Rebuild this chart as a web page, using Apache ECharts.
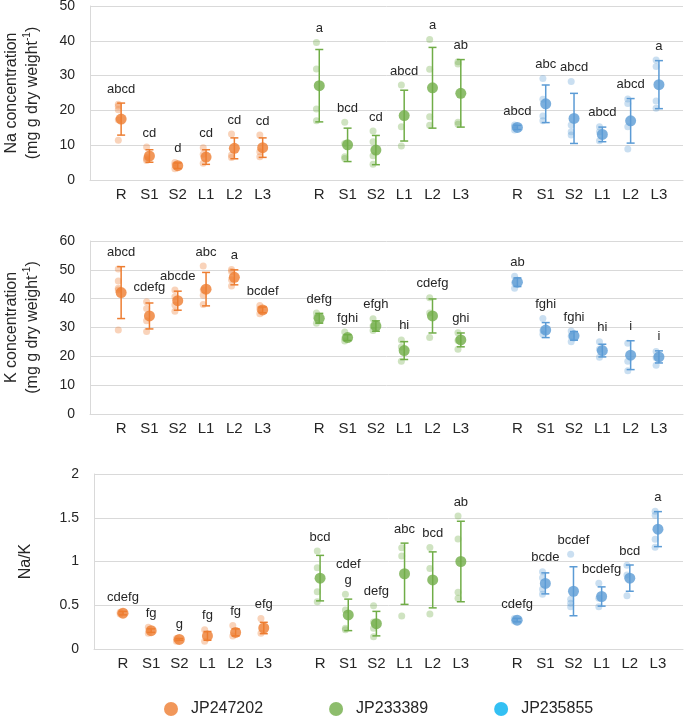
<!DOCTYPE html>
<html>
<head>
<meta charset="utf-8">
<script src="https://cdn.jsdelivr.net/npm/echarts@6/dist/echarts.min.js"></script>
<style>html,body{margin:0;padding:0;background:#fff}#c{width:685px;height:716px}</style>
</head>
<body>
<div id="c"></div>
<script>
// ---------- DATA ----------
const treatments = ['R', 'S1', 'S2', 'L1', 'L2', 'L3'];
const genotypes = ['JP247202', 'JP233389', 'JP235855'];

// Na concentration (mg g dry weight^-1)
const naMeanOr = [17.5, 6.9, 4.1, 6.6, 9.1, 9.3];
const naErrOr  = [4.6, 1.8, 0.8, 2.1, 3.0, 2.8];
const naRepOr  = [[21.8, 21.2, 20.2, 17.3, 11.4], [9.5, 6.5, 6.0, 5.6], [5.0, 4.3, 3.2], [9.3, 7.4, 4.8], [13.2, 7.2, 6.5], [12.9, 8.1, 6.7]];
const naLblOr  = ['abcd', 'cd', 'd', 'cd', 'cd', 'cd'];

const naMeanGr = [27.1, 10.1, 8.6, 18.5, 26.5, 24.9];
const naErrGr  = [10.4, 4.8, 4.2, 7.3, 11.6, 9.7];
const naRepGr  = [[39.5, 31.9, 20.4, 17.0], [16.6, 10.5, 6.7, 6.2], [14.1, 11.0, 7.0, 4.5], [27.3, 15.3, 9.8], [40.4, 31.8, 18.2, 15.7], [34.0, 33.3, 16.6, 16.0]];
const naLblGr  = ['a', 'bcd', 'cd', 'abcd', 'a', 'ab'];

const naMeanBl = [15.1, 21.9, 17.7, 13.1, 17.0, 27.4];
const naErrBl  = [0.6, 5.4, 7.2, 2.1, 6.4, 6.9];
const naRepBl  = [[15.8, 15.3, 14.4], [29.2, 23.2, 18.4, 17.0], [28.3, 15.8, 13.9, 12.9], [15.3, 13.9, 11.3], [23.3, 22.0, 15.3, 8.9], [34.5, 32.6, 22.7, 20.6]];
const naLblBl  = ['abcd', 'abc', 'abcd', 'abcd', 'abcd', 'a'];

// K concentration
const kMeanOr = [42.1, 34.0, 39.3, 43.3, 47.4, 36.1];
const kErrOr  = [9.0, 4.5, 3.3, 5.8, 2.6, 1.0];
const kRepOr  = [[50.3, 46.1, 43.6, 43.0, 29.1], [38.9, 36.6, 32.3, 28.6], [43.0, 40.7, 37.8, 35.6], [51.3, 43.0, 41.2, 38.0], [50.1, 49.4, 46.6, 44.4], [37.6, 36.4, 34.8]];
const kLblOr  = ['abcd', 'cdefg', 'abcde', 'abc', 'a', 'bcdef'];

const kMeanGr = [33.2, 26.5, 30.5, 22.0, 34.0, 25.7];
const kErrGr  = [1.7, 1.0, 1.8, 3.1, 5.9, 2.4];
const kRepGr  = [[35.0, 33.5, 31.5], [28.4, 26.3, 25.3], [33.0, 30.5, 29.0], [25.7, 23.2, 18.3], [40.3, 35.0, 26.5], [28.2, 25.5, 22.5]];
const kLblGr  = ['defg', 'fghi', 'efgh', 'hi', 'cdefg', 'ghi'];

const kMeanBl = [45.7, 29.1, 27.1, 22.0, 20.4, 19.8];
const kErrBl  = [1.5, 2.6, 1.5, 2.2, 5.0, 2.1];
const kRepBl  = [[47.8, 45.5, 43.6], [33.1, 29.0, 27.7], [28.8, 27.0, 25.1], [25.1, 22.5, 19.7], [24.5, 18.3, 15.0], [21.7, 19.5, 16.9]];
const kLblBl  = ['ab', 'fghi', 'fghi', 'hi', 'i', 'i'];

// Na/K ratio
const rMeanOr = [0.41, 0.21, 0.11, 0.15, 0.19, 0.24];
const rErrOr  = [0.02, 0.02, 0.01, 0.05, 0.04, 0.065];
const rRepOr  = [[0.42, 0.40], [0.25, 0.18], [0.12, 0.09], [0.22, 0.09], [0.27, 0.15], [0.35, 0.18]];
const rLblOr  = ['cdefg', 'fg', 'g', 'fg', 'fg', 'efg'];

const rMeanGr = [0.81, 0.39, 0.29, 0.86, 0.79, 1.00];
const rErrGr  = [0.26, 0.18, 0.14, 0.35, 0.32, 0.46];
const rRepGr  = [[1.12, 0.93, 0.655, 0.54], [0.625, 0.446, 0.237, 0.22], [0.495, 0.31, 0.237, 0.14], [1.158, 1.063, 0.377], [1.16, 0.92, 0.40], [1.52, 1.257, 0.648, 0.579]];
const rLblGr  = ['bcd', 'cdef\ng', 'defg', 'abc', 'bcd', 'ab'];

const rMeanBl = [0.33, 0.75, 0.66, 0.60, 0.81, 1.37];
const rErrBl  = [0.02, 0.12, 0.28, 0.11, 0.15, 0.20];
const rRepBl  = [[0.35, 0.32], [0.883, 0.815, 0.682, 0.625], [1.082, 0.568, 0.522, 0.484], [0.751, 0.579, 0.484], [0.956, 0.846, 0.609], [1.574, 1.528, 1.254, 1.162]];
const rLblBl  = ['cdefg', 'bcde', 'bcdef', 'bcdefg', 'bcd', 'a'];

// ---------- STYLE ----------
const FONT = '"Liberation Sans", Arial, sans-serif';
const mainColors  = ['#ED7D31', '#70AD47', '#5B9BD5'];
const lightColors = ['rgba(237,125,49,0.42)', 'rgba(112,173,71,0.42)', 'rgba(91,155,213,0.40)'];
const legendColors = ['#ED7D31', '#70AD47', '#00B0F0'];
const GRID_COLOR = '#d9d9d9';

const panels = [
  { means: [naMeanOr, naMeanGr, naMeanBl], errs: [naErrOr, naErrGr, naErrBl], reps: [naRepOr, naRepGr, naRepBl], lbls: [naLblOr, naLblGr, naLblBl],
    ymax: 50, yint: 10, xmin: -1.1, xmax: 19.85, grid: { left: 90, top: 6, right: 2, height: 174 },
    name: '{t|Na concentration}\n{t|(mg g dry weight}{sup|-1}{t|)}', nameGap: 47 },
  { means: [kMeanOr, kMeanGr, kMeanBl], errs: [kErrOr, kErrGr, kErrBl], reps: [kRepOr, kRepGr, kRepBl], lbls: [kLblOr, kLblGr, kLblBl],
    ymax: 60, yint: 10, xmin: -1.1, xmax: 19.85, grid: { left: 90, top: 241, right: 2, height: 173 },
    name: '{t|K concentration}\n{t|(mg g dry weight}{sup|-1}{t|)}', nameGap: 47 },
  { means: [rMeanOr, rMeanGr, rMeanBl], errs: [rErrOr, rErrGr, rErrBl], reps: [rRepOr, rRepGr, rRepBl], lbls: [rLblOr, rLblGr, rLblBl],
    ymax: 2, yint: 0.5, xmin: -1.03, xmax: 19.89, grid: { left: 94, top: 474, right: 2, height: 175 },
    name: '{t|Na/K}', nameGap: 58 }
];

const labelPositions = [];
genotypes.forEach((g, gi) => treatments.forEach((t, ti) => labelPositions.push(gi * 7 + ti)));

const option = {
  animation: false,
  backgroundColor: '#fff',
  grid: panels.map(p => Object.assign({ outerBoundsMode: 'none', containLabel: false }, p.grid)),
  xAxis: panels.map((p, i) => ({
    type: 'value', gridIndex: i, min: p.xmin, max: p.xmax,
    axisLine: { show: true, onZero: false, lineStyle: { color: GRID_COLOR, width: 1 } },
    axisTick: { show: false },
    splitLine: { show: false },
    axisLabel: {
      customValues: labelPositions,
      formatter: v => treatments[Math.round(v) % 7] || '',
      fontFamily: FONT, fontSize: 15, color: '#262626', margin: 7
    }
  })),
  yAxis: panels.map((p, i) => ({
    type: 'value', gridIndex: i, min: 0, max: p.ymax, interval: p.yint,
    axisLine: { show: true, onZero: false, lineStyle: { color: GRID_COLOR, width: 1 } },
    axisTick: { show: false },
    splitLine: { show: true, lineStyle: { color: GRID_COLOR, width: 1 } },
    axisLabel: { fontFamily: FONT, fontSize: 14, color: '#262626', margin: 15 },
    name: p.name, nameLocation: 'middle', nameRotate: 90, nameGap: p.nameGap,
    nameTextStyle: {
      fontFamily: FONT, color: '#262626', lineHeight: 21, align: 'center',
      rich: {
        t: { fontFamily: FONT, fontSize: 16, color: '#262626', lineHeight: 21 },
        sup: { fontFamily: FONT, fontSize: 10, color: '#262626', verticalAlign: 'top', lineHeight: 21 }
      }
    }
  })),
  legend: {
    data: genotypes.map((g, gi) => ({ name: g, itemStyle: { color: legendColors[gi] } })),
    icon: 'circle', itemWidth: 30, itemHeight: 14, itemGap: 66,
    left: 159, top: 696,
    textStyle: { fontFamily: FONT, fontSize: 16, color: '#262626' }
  },
  series: []
};

panels.forEach((p, pi) => {
  genotypes.forEach((g, gi) => {
    const base = gi * 7;
    // replicate points
    const repData = [];
    p.reps[gi].forEach((arr, ti) => arr.forEach(v => repData.push([base + ti - 0.1, v])));
    option.series.push({
      type: 'scatter', xAxisIndex: pi, yAxisIndex: pi, symbol: 'circle', symbolSize: 7,
      itemStyle: { color: lightColors[gi] }, data: repData, z: 2, silent: true
    });
    // error bars + significance letters
    const lbls = p.lbls[gi];
    const errData = p.means[gi].map((m, ti) => [base + ti, m, p.errs[gi][ti], Math.max.apply(null, p.reps[gi][ti])]);
    option.series.push({
      type: 'custom', xAxisIndex: pi, yAxisIndex: pi, z: 3, silent: true,
      data: errData,
      renderItem: (params, api) => {
        const x = api.value(0), m = api.value(1), e = api.value(2), mx = api.value(3);
        const hi = api.coord([x, m + e]);
        const lo = api.coord([x, m - e]);
        const top = api.coord([x, Math.max(m + e, mx)]);
        const cap = 4;
        const ls = { stroke: mainColors[gi], lineWidth: 1.5 };
        return {
          type: 'group',
          children: [
            { type: 'line', shape: { x1: hi[0], y1: hi[1], x2: lo[0], y2: lo[1] }, style: ls },
            { type: 'line', shape: { x1: hi[0] - cap, y1: hi[1], x2: hi[0] + cap, y2: hi[1] }, style: ls },
            { type: 'line', shape: { x1: lo[0] - cap, y1: lo[1], x2: lo[0] + cap, y2: lo[1] }, style: ls },
            { type: 'text', x: top[0], y: top[1] - 6,
              style: { text: lbls[params.dataIndex], align: 'center', verticalAlign: 'bottom',
                       fontFamily: FONT, fontSize: 13, fill: '#262626', lineHeight: 16 } }
          ]
        };
      }
    });
    // means
    option.series.push({
      name: g, type: 'scatter', xAxisIndex: pi, yAxisIndex: pi, symbol: 'circle', symbolSize: 11,
      itemStyle: { color: mainColors[gi] }, z: 4, silent: true,
      data: p.means[gi].map((m, ti) => [base + ti, m])
    });
  });
});

const chart = echarts.init(document.getElementById('c'), null, { renderer: 'canvas' });
chart.setOption(option);
</script>
</body>
</html>
